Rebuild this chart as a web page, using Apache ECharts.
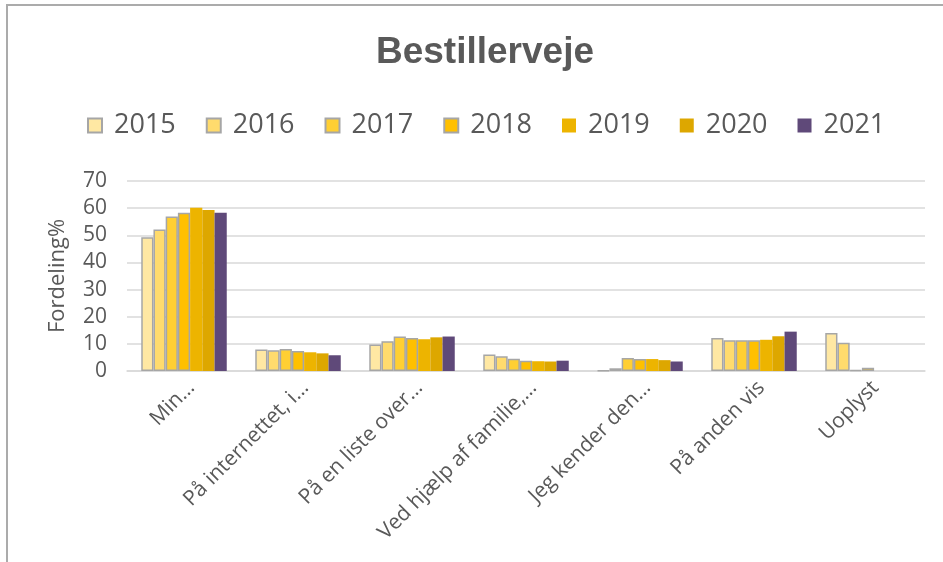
<!DOCTYPE html>
<html>
<head>
<meta charset="utf-8">
<script src="https://cdn.jsdelivr.net/npm/echarts@6/dist/echarts.min.js"></script>
<style>
  html, body { margin: 0; padding: 0; background: #fff; }
  #frame { position: absolute; left: 6px; top: 4px; width: 1000px; height: 600px;
           border-top: 2px solid #ababab; border-left: 2px solid #ababab; }
  #chart { position: absolute; left: 0; top: 0; width: 943px; height: 562px; }
</style>
</head>
<body>
<div id="frame"></div>
<div id="chart"></div>
<script>
// categories and values (percent)
const categories = [
  "Min…",
  "På internettet, i…",
  "På en liste over…",
  "Ved hjælp af familie,…",
  "Jeg kender den…",
  "På anden vis",
  "Uoplyst"
];
const years = ["2015", "2016", "2017", "2018", "2019", "2020", "2021"];

const v2015 = [49.3, 7.9, 9.8, 6.1, 0.2, 12.2, 14.0];
const v2016 = [52.1, 7.6, 11.0, 5.4, 1.0, 11.3, 10.4];
const v2017 = [56.9, 8.1, 12.7, 4.5, 4.8, 11.3, 0.3];
const v2018 = [58.3, 7.4, 12.2, 3.8, 4.4, 11.3, 1.2];
const v2019 = [60.1, 6.9, 11.7, 3.6, 4.4, 11.5, 0];
const v2020 = [59.3, 6.5, 12.4, 3.5, 4.0, 12.8, 0];
const v2021 = [58.3, 5.8, 12.7, 3.8, 3.5, 14.5, 0];

const yTicks = [0, 10, 20, 30, 40, 50, 60, 70];

const values = [v2015, v2016, v2017, v2018, v2019, v2020, v2021];
const colors = ["#FFE8A3", "#FFDB6D", "#FFCF33", "#FFC000", "#EDB400", "#DDA700", "#5F4979"];
const bordered = [true, true, true, true, false, false, false];

const chart = echarts.init(document.getElementById("chart"));

const option = {
  animation: false,
  title: {
    text: "Bestillerveje",
    left: 480,
    top: 29,
    textAlign: "center",
    textStyle: {
      fontFamily: "Liberation Sans",
      fontWeight: "bold",
      fontSize: 37,
      color: "#595959"
    }
  },
  legend: {
    top: 107,
    left: 82,
    itemWidth: 14,
    itemHeight: 14,
    itemGap: 30,
    icon: "rect",
    textStyle: {
      fontFamily: "Open Sans",
      fontSize: 27,
      color: "#595959",
      padding: [0, 0, 0, 7]
    },
    data: years
  },
  grid: {
    left: 127,
    right: 18,
    top: 181,
    bottom: 191
  },
  xAxis: {
    type: "category",
    data: categories,
    axisLine: { lineStyle: { color: "#D9D9D9", width: 1.5 } },
    axisTick: { show: false },
    axisLabel: {
      rotate: 45,
      interval: 0,
      margin: 6,
      verticalAlign: "top",
      fontFamily: "Open Sans",
      fontSize: 21,
      color: "#595959"
    }
  },
  yAxis: {
    type: "value",
    min: 0,
    max: 70,
    interval: 10,
    name: "Fordeling%",
    nameLocation: "middle",
    nameGap: 58,
    nameTextStyle: {
      fontFamily: "Open Sans",
      fontSize: 22,
      color: "#595959"
    },
    axisLine: { show: false },
    axisTick: { show: false },
    splitLine: { lineStyle: { color: "#D9D9D9", width: 1.5 } },
    axisLabel: {
      margin: 20,
      fontFamily: "Open Sans",
      fontSize: 21,
      color: "#595959",
      formatter: function (v) { return yTicks.indexOf(v) >= 0 ? String(v) : ""; }
    }
  },
  series: years.map(function (y, i) {
    return {
      name: y,
      type: "bar",
      data: values[i],
      barGap: "0%",
      barCategoryGap: "25%",
      itemStyle: {
        color: colors[i],
        borderColor: bordered[i] ? "#A6A6A6" : colors[i],
        borderWidth: bordered[i] ? 1.5 : 0
      }
    };
  })
};

chart.setOption(option);
</script>
</body>
</html>
